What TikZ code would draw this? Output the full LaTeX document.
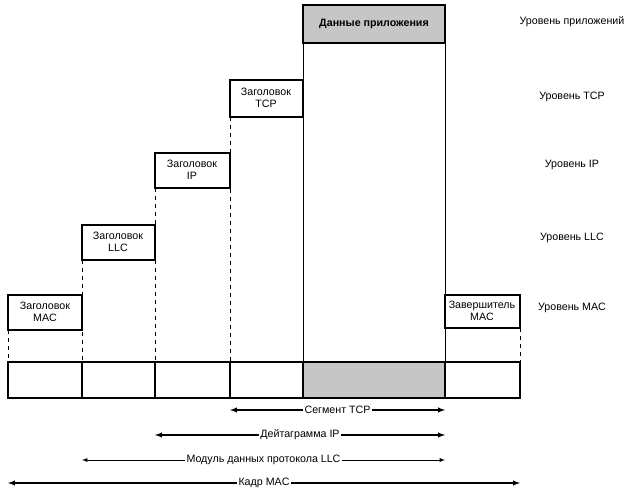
\documentclass[tikz,border=0pt]{standalone}
\usepackage{fontspec}
\setmainfont{Liberation Sans}
\begin{document}
\begin{tikzpicture}[x=0.75pt,y=-0.75pt,
  hdr/.style={draw,thick,minimum width=0pt,align=center,font=\fontsize{8}{9}\selectfont},
  lbl/.style={font=\fontsize{8}{9}\selectfont},
  dsh/.style={dashed,thin},
  dim/.style={<->,>=latex,thick},
  dimlbl/.style={fill=white,inner sep=1pt,font=\fontsize{8}{9}\selectfont}]
\useasboundingbox (0,0) rectangle (632,500);
\fill[gray!45] (303,5) rectangle (445,43);
\draw[thick] (303,5) rectangle (445,43);
\node[font=\fontsize{8}{9}\selectfont\bfseries] (app) at (374,24) {Данные приложения};
\draw[thick] (230,80) rectangle (303,117);
\node[lbl,align=center] (tcp) at (266,98) {Заголовок\\TCP};
\draw[thick] (155,153) rectangle (230,188);
\node[lbl,align=center] (ip) at (192,170) {Заголовок\\IP};
\draw[thick] (82,225) rectangle (155,260);
\node[lbl,align=center] (llc) at (118,242) {Заголовок\\LLC};
\draw[thick] (8,295) rectangle (82,330);
\node[lbl,align=center] (mac) at (45,312) {Заголовок\\MAC};
\draw[thick] (445,295) rectangle (520,328);
\node[lbl,align=center] (trl) at (482,311) {Завершитель\\MAC};
% row
\fill[gray!45] (303,362) rectangle (445,398);
\draw[thick] (8,362) rectangle (520,398);
\foreach \x in {82,155,230,303,445} \draw[thick] (\x,362) -- (\x,398);
% vertical lines
\draw (303,43) -- (303,362);
\draw (445,43) -- (445,362);
\draw[dsh] (230,117) -- (230,362);
\draw[dsh] (155,188) -- (155,362);
\draw[dsh] (82,260) -- (82,362);
\draw[dsh] (8,330) -- (8,362);
\draw[dsh] (520,328) -- (520,362);
% right labels
\node[lbl] (l1) at (572,22) {Уровень приложений};
\node[lbl] (l2) at (572,97) {Уровень TCP};
\node[lbl] (l3) at (572,165) {Уровень IP};
\node[lbl] (l4) at (572,238) {Уровень LLC};
\node[lbl] (l5) at (572,308) {Уровень MAC};
% dimension arrows
\coordinate (a1) at (230,410); \coordinate (b1) at (445,410);
\draw[dim] (a1) -- (b1) node[midway,dimlbl] {Сегмент TCP};
\coordinate (a2) at (155,435); \coordinate (b2) at (445,435);
\draw[dim] (a2) -- (b2) node[midway,dimlbl] {Дейтаграмма IP};
\coordinate (a3) at (82,460); \coordinate (b3) at (445,460);
\draw[dim,thin] (a3) -- (b3) node[midway,dimlbl] {Модуль данных протокола LLC};
\coordinate (a4) at (8,483); \coordinate (b4) at (520,483);
\draw[dim] (a4) -- (b4) node[midway,dimlbl] {Кадр MAC};
\end{tikzpicture}
\end{document}
